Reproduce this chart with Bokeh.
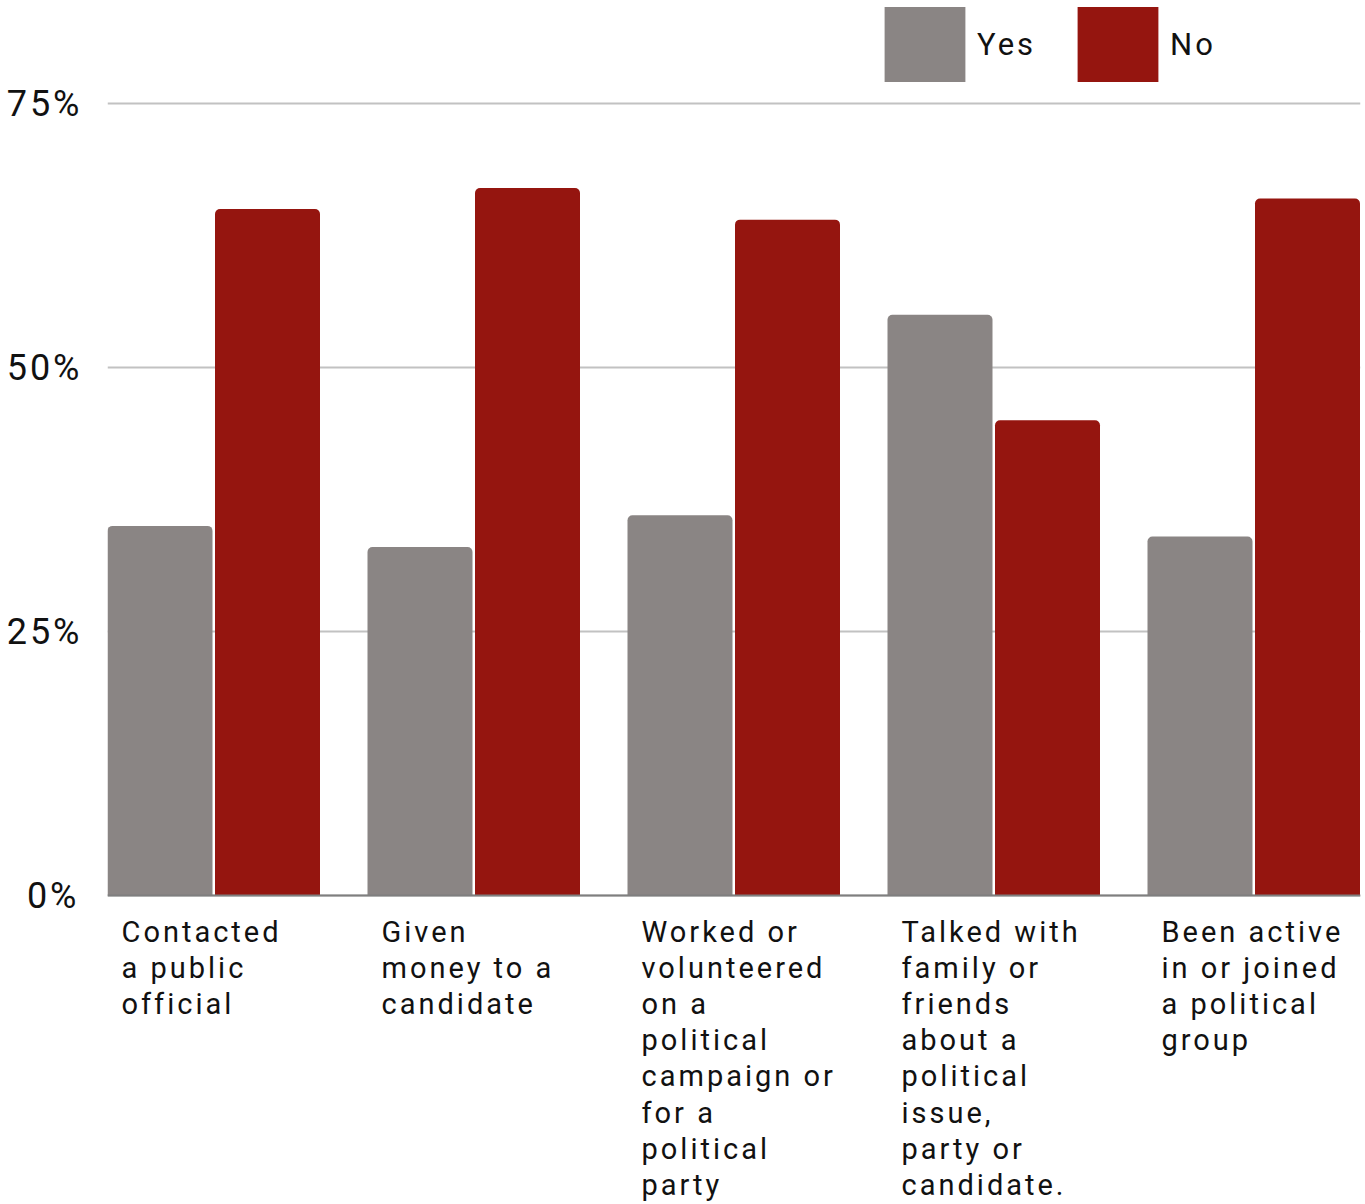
from bokeh.plotting import figure
from bokeh.models import (Range1d, FixedTicker, PrintfTickFormatter, ColumnDataSource,
                          Legend, LegendItem, Span)
from bokeh.core.properties import value
from bokeh.embed import file_html
from bokeh.resources import INLINE

categories = [
    "Contacted\na public\nofficial",
    "Given\nmoney to a\ncandidate",
    "Worked or\nvolunteered\non a\npolitical\ncampaign or\nfor a\npolitical\nparty",
    "Talked with\nfamily or\nfriends\nabout a\npolitical\nissue,\nparty or\ncandidate.",
    "Been active\nin or joined\na political\ngroup",
]
yes_values = [35, 33, 36, 55, 34]
no_values = [65, 67, 64, 45, 66]
y_ticks = [0, 25, 50, 75]

YES_COLOR = "#8a8584"
NO_COLOR = "#95150f"

n = len(categories)
group = 260.0
bar_w = 105.0 / group
pair_gap = 2.5 / group
group_gap = 47.0 / group
label_off = 14.0 / group

W, H = 1365, 1204
left, right = 107, 5
px_per_unit = 10.56          # 25% step = 264 px
zero_px = 895                # pixel row of 0%
y_lo = -(H - zero_px) / px_per_unit
y_hi = zero_px / px_per_unit

idx = list(range(n))
src = ColumnDataSource(dict(
    yes_x=[i + bar_w / 2 for i in idx],
    no_x=[i + bar_w * 1.5 + pair_gap for i in idx],
    yes=yes_values,
    no=no_values,
    lab_x=[i + label_off for i in idx],
    lab_y=[-1.85] * n,
    lab=categories,
))

p = figure(width=W, height=H, output_backend="svg", toolbar_location=None,
           x_range=Range1d(0, n - group_gap), y_range=Range1d(y_lo, y_hi),
           min_border_left=left, min_border_right=right, min_border_top=0,
           min_border_bottom=0)
p.styles = {"letter-spacing": "3px"}
p.outline_line_color = None
p.background_fill_color = "white"
p.border_fill_color = "white"

p.xgrid.grid_line_color = None
p.ygrid.ticker = FixedTicker(ticks=y_ticks)
p.ygrid.grid_line_color = "#c2c2c2"
p.ygrid.grid_line_width = 2

r_yes = p.vbar(x="yes_x", top="yes", width=bar_w, bottom=0, source=src,
               fill_color=YES_COLOR, line_color=None, border_radius=(5, 5, 0, 0))
r_no = p.vbar(x="no_x", top="no", width=bar_w, bottom=0, source=src,
              fill_color=NO_COLOR, line_color=None, border_radius=(5, 5, 0, 0))

p.add_layout(Span(location=0, dimension="width", line_color="#7f7f7f", line_width=2))

p.text(x="lab_x", y="lab_y", text="lab", source=src,
       text_font=value("Roboto"), text_font_size=value("29px"), text_color="#111111",
       text_align="left", text_baseline="top", text_line_height=1.062)

p.xaxis.visible = False

yax = p.yaxis[0]
yax.ticker = FixedTicker(ticks=y_ticks)
yax.formatter = PrintfTickFormatter(format="%d%%")
yax.axis_line_color = None
yax.major_tick_line_color = None
yax.minor_tick_line_color = None
yax.major_tick_out = 0
yax.major_tick_in = 0
yax.major_label_standoff = 34
yax.major_label_text_font = "Roboto"
yax.major_label_text_font_size = "36px"
yax.major_label_text_color = "#111111"

legend = Legend(items=[LegendItem(label="Yes", renderers=[r_yes]),
                       LegendItem(label="No", renderers=[r_no])],
                orientation="horizontal", location=(767, H - 94 + 3),
                glyph_width=101, glyph_height=94, label_standoff=2, spacing=31,
                label_text_font="Roboto", label_text_font_size="31px",
                label_text_color="#111111", padding=0, margin=0,
                border_line_alpha=0, background_fill_alpha=0)
p.add_layout(legend)

open("out.html", "w").write(file_html(p, INLINE))
